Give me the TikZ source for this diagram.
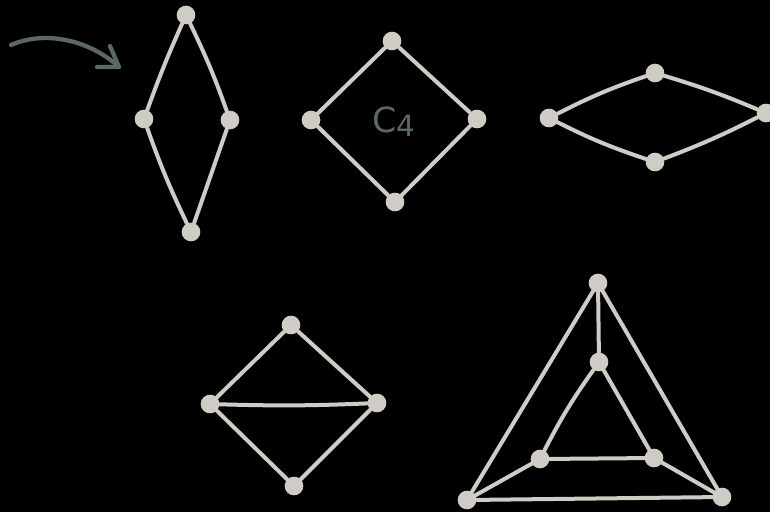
\documentclass[tikz,border=0pt]{standalone}
\usepackage{fontspec}
\setmainfont{DejaVu Sans}
\begin{document}
\begin{tikzpicture}[x=0.75pt,y=-0.75pt,
  vtx/.style={circle,fill=chalk,inner sep=0pt,minimum size=14pt},
  edge/.style={draw=chalk,line width=3pt,line cap=round,line join=round},
  note/.style={draw=slate,line width=3.2pt,line cap=round,line join=round}]
\definecolor{chalk}{HTML}{CFCCC6}
\definecolor{slate}{HTML}{5B6866}
\fill[black] (0,0) rectangle (770,512);
\useasboundingbox (0,0) rectangle (770,512);
% arrow
\coordinate (as) at (11,45);
\coordinate (at) at (119,67);
\coordinate (b1) at (110,46);
\coordinate (b2) at (97,67);
\draw[note] (as) .. controls (45,30) and (90,40) .. (at);
\draw[note] (b1) -- (at) -- (b2);
% graph 1
\node[vtx] (a1) at (186,15) {};
\node[vtx] (a2) at (144,119) {};
\node[vtx] (a3) at (230,120) {};
\node[vtx] (a4) at (191,232) {};
\draw[edge] (a1) to[bend right=2] (a2);
\draw[edge] (a1) to[bend left=3] (a3);
\draw[edge] (a2) to[bend right=3] (a4);
\draw[edge] (a3) -- (a4);
% graph 2
\node[vtx] (c1) at (392,41) {};
\node[vtx] (c2) at (311,120) {};
\node[vtx] (c3) at (477,119) {};
\node[vtx] (c4) at (395,202) {};
\draw[edge] (c1) -- (c2) -- (c4) -- (c3) -- (c1);
\node[text=slate,font=\fontsize{26}{26}\selectfont] (lab) at (394,122) {C\raisebox{-0.2ex}{\fontsize{22}{22}\selectfont4}};
% graph 3
\node[vtx] (d1) at (549,118) {};
\node[vtx] (d2) at (655,73) {};
\node[vtx] (d3) at (766,113) {};
\node[vtx] (d4) at (655,162) {};
\draw[edge] (d1) to[bend left=4] (d2);
\draw[edge] (d2) to[bend left=3] (d3);
\draw[edge] (d3) to[bend left=3] (d4);
\draw[edge] (d4) to[bend left=4] (d1);
% graph 4
\node[vtx] (e1) at (291,325) {};
\node[vtx] (e2) at (210,404) {};
\node[vtx] (e3) at (377,403) {};
\node[vtx] (e4) at (294,486) {};
\draw[edge] (e1) -- (e2) -- (e4) -- (e3) -- (e1);
\draw[edge] (e2) to[bend right=2] (e3);
% graph 5
\node[vtx] (f1) at (598,283) {};
\node[vtx] (f2) at (467,500) {};
\node[vtx] (f3) at (722,497) {};
\node[vtx] (f4) at (599,362) {};
\node[vtx] (f5) at (540,459) {};
\node[vtx] (f6) at (654,458) {};
\draw[edge] (f1) -- (f2) -- (f3) -- (f1);
\draw[edge] (f4) to[bend right=4] (f5);
\draw[edge] (f5) -- (f6) -- (f4);
\draw[edge] (f1) -- (f4);
\draw[edge] (f2) -- (f5);
\draw[edge] (f3) -- (f6);
\end{tikzpicture}
\end{document}
